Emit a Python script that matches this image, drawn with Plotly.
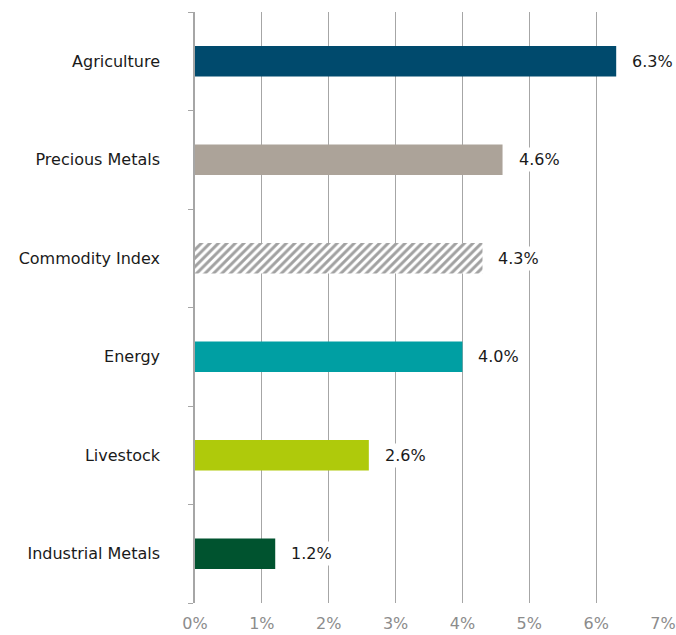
import plotly.graph_objects as go

categories = ["Agriculture", "Precious Metals", "Commodity Index", "Energy", "Livestock", "Industrial Metals"]
values = [6.3, 4.6, 4.3, 4.0, 2.6, 1.2]
colors = ["#004A6D", "#ACA399", "#FFFFFF", "#009FA3", "#AFCA0B", "#00532F"]
patterns = ["", "", "/", "", "", ""]
x_tickvals = [0, 1, 2, 3, 4, 5, 6, 7]
x_ticktext = ["0%", "1%", "2%", "3%", "4%", "5%", "6%", "7%"]

FONT = "DejaVu Sans, Liberation Sans, Arial, sans-serif"

fig = go.Figure()
fig.add_trace(go.Bar(
    y=categories,
    x=values,
    orientation="h",
    width=0.31,
    marker=dict(
        color=colors,
        line=dict(width=0),
        pattern=dict(shape=patterns, fgcolor="#CBD9DB", bgcolor="#FFFFFF", size=6, solidity=0.5),
    ),
    hoverinfo="skip",
))

for c, v in zip(categories, values):
    fig.add_annotation(
        x=v, y=c, text=f"{v:.1f}%", showarrow=False,
        xanchor="left", xshift=13, bgcolor="#FFFFFF", borderpad=2,
        font=dict(family=FONT, size=16, color="#1A1A1A"),
    )

fig.update_layout(
    width=676, height=635,
    margin=dict(l=195, r=13, t=12, b=32),
    paper_bgcolor="white", plot_bgcolor="white",
    showlegend=False,
    font=dict(family=FONT),
)
fig.update_xaxes(
    range=[0, 7], tickvals=x_tickvals, ticktext=x_ticktext,
    showgrid=True, gridcolor="#A6A6A6", gridwidth=1.3,
    zeroline=False, showline=False, ticks="",
    tickfont=dict(family=FONT, size=16, color="#8C8C8C"),
    ticklabelstandoff=9, fixedrange=True, automargin=False,
)
fig.update_yaxes(
    categoryorder="array", categoryarray=categories[::-1],
    showline=True, linecolor="#A6A6A6", linewidth=1.5,
    ticks="outside", tickson="boundaries", ticklen=5, tickcolor="#A6A6A6",
    tickfont=dict(family=FONT, size=16, color="#1A1A1A"),
    ticklabelstandoff=30, showgrid=False, fixedrange=True, automargin=False,
)

# remove the default 8px page margin so the 676x635 figure fills the window exactly
fig.write_html(
    "out.html",
    config={"displayModeBar": False},
    post_script="document.body.style.margin='0';document.body.style.overflow='hidden';",
)
